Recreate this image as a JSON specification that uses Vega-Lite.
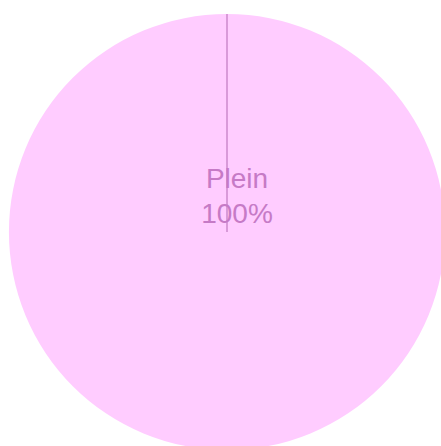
{
  "$schema": "https://vega.github.io/schema/vega-lite/v6.json",
  "autosize": "none",
  "width": 428,
  "height": 428,
  "padding": {"left": 13, "top": 18, "right": 0, "bottom": 0},
  "background": "white",
  "view": {"stroke": null},
  "data": {"values": [{"category": "Plein", "value": 100, "label": "100%"}]},
  "layer": [
    {
      "mark": {"type": "arc", "radius": 218, "stroke": null},
      "encoding": {
        "theta": {"field": "value", "type": "quantitative", "stack": true},
        "color": {"field": "category", "type": "nominal", "scale": {"range": ["#ffccff"]}, "legend": null}
      }
    },
    {
      "mark": {"type": "arc", "theta": 0, "theta2": 0, "radius": 218, "radius2": 0, "fill": null, "stroke": "#d99ad9", "strokeWidth": 2},
      "encoding": {}
    },
    {
      "mark": {"type": "text", "font": "Liberation Sans", "fontSize": 28, "color": "#c67ac6", "align": "center", "baseline": "alphabetic", "dx": 10, "dy": -44},
      "encoding": {"text": {"field": "category"}}
    },
    {
      "mark": {"type": "text", "font": "Liberation Sans", "fontSize": 28, "color": "#c67ac6", "align": "center", "baseline": "alphabetic", "dx": 10, "dy": -9},
      "encoding": {"text": {"field": "label"}}
    }
  ]
}
